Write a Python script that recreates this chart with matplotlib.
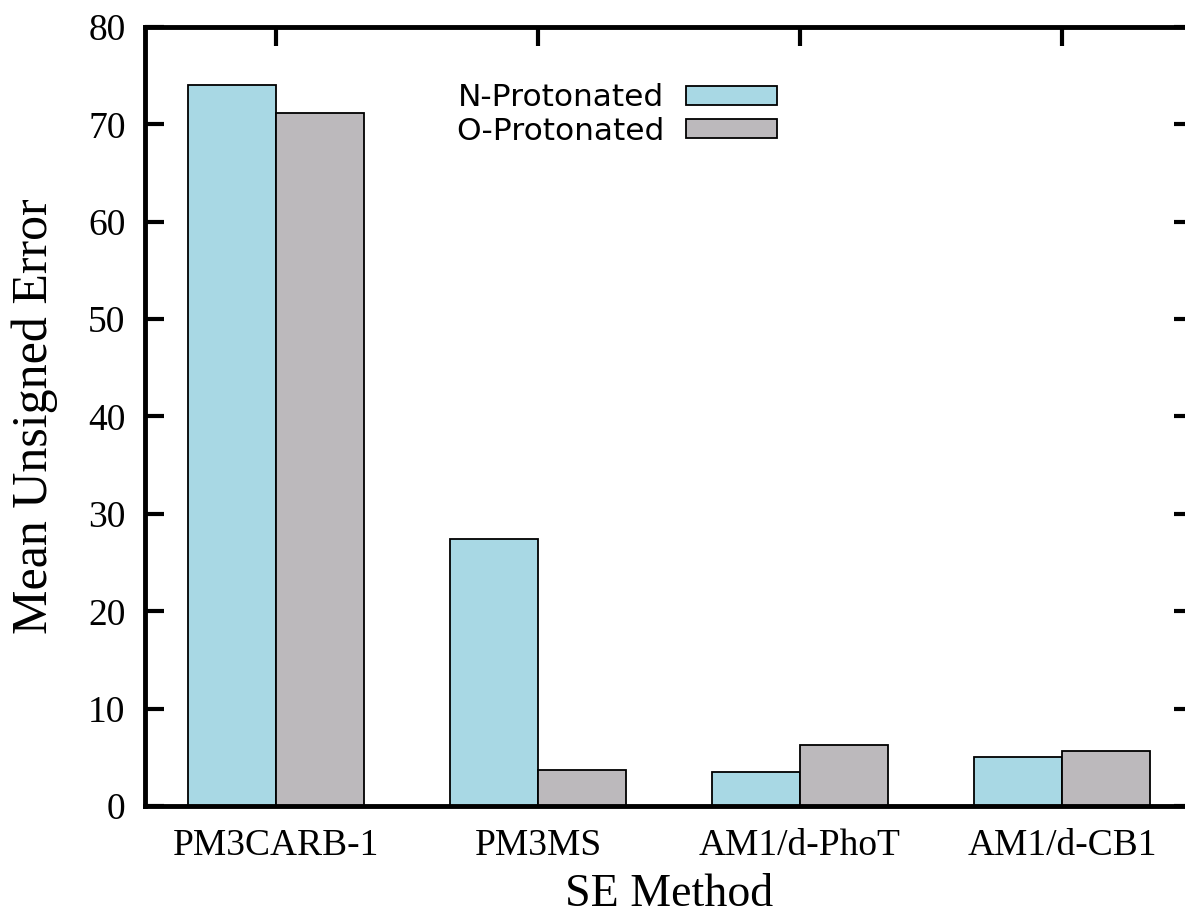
import numpy as np
import matplotlib.pyplot as plt

methods = ['PM3CARB-1', 'PM3MS', 'AM1/d-PhoT', 'AM1/d-CB1']
n_prot = [74.0, 27.4, 3.5, 5.0]
o_prot = [71.2, 3.7, 6.3, 5.6]

fig = plt.figure(figsize=(11.85, 9.18), dpi=100)
ax = fig.add_axes([0.1224, 0.122, 0.8844, 0.8486])

x = np.arange(len(methods))
w = 0.336
ax.bar(x - w/2, n_prot, w, color='#a8d8e4', edgecolor='black', linewidth=1.3,
       label='N-Protonated', zorder=2)
ax.bar(x + w/2, o_prot, w, color='#bcb9bc', edgecolor='black', linewidth=1.3,
       label='O-Protonated', zorder=2)

ax.set_xlim(-0.5, 3.5)
ax.set_ylim(0, 80)
ax.set_xticks(x)
ax.set_xticklabels(methods)
ax.set_yticks(np.arange(0, 81, 10))

serif = 'Liberation Serif'
for lab in ax.get_xticklabels() + ax.get_yticklabels():
    lab.set_fontfamily(serif)
    lab.set_fontsize(27)

for s in ax.spines.values():
    s.set_linewidth(3.5)
    s.set_zorder(3)

ax.tick_params(axis='y', direction='in', length=14, width=3, right=True, pad=14)
ax.tick_params(axis='x', direction='in', length=14, width=3, top=True,
               bottom=False, pad=16)

ax.set_xlabel('SE Method', fontfamily=serif, fontsize=33, labelpad=8)
ax.set_ylabel('Mean Unsigned Error', fontfamily=serif, fontsize=36, labelpad=22)

leg = ax.legend(loc='upper left', bbox_to_anchor=(0.27, 0.964), markerfirst=False,
                frameon=False, prop={'family': 'DejaVu Sans', 'size': 22.5},
                handlelength=2.9, handleheight=0.56, handletextpad=0.7,
                labelspacing=0.15)

fig.savefig('out.png', dpi=100)
